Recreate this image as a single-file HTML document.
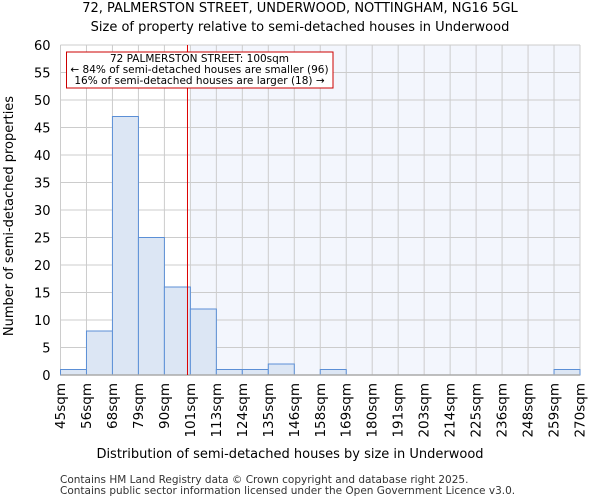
<!DOCTYPE html>
<html><head><meta charset="utf-8"><style>
body{margin:0;background:#fff;font-family:"DejaVu Sans","Liberation Sans",sans-serif;}
svg text{font-family:"DejaVu Sans","Liberation Sans",sans-serif;}
</style></head><body>
<svg id="c" width="600" height="500" xmlns="http://www.w3.org/2000/svg">
<text x="300" y="12" text-anchor="middle" font-size="13">72, PALMERSTON STREET, UNDERWOOD, NOTTINGHAM, NG16 5GL</text>
<text x="300" y="31" text-anchor="middle" font-size="13">Size of property relative to semi-detached houses in Underwood</text>
<g id="plot"></g>
<text x="290" y="458" text-anchor="middle" font-size="13">Distribution of semi-detached houses by size in Underwood</text>
<text transform="translate(13,216) rotate(-90)" text-anchor="middle" font-size="13">Number of semi-detached properties</text>
<text x="60" y="483" font-size="10.5" fill="#333">Contains HM Land Registry data © Crown copyright and database right 2025.</text>
<text x="60" y="494" font-size="10.5" fill="#333">Contains public sector information licensed under the Open Government Licence v3.0.</text>
</svg>
<script>
const binLabels=["45sqm","56sqm","68sqm","79sqm","90sqm","101sqm","113sqm","124sqm","135sqm","146sqm","158sqm","169sqm","180sqm","191sqm","203sqm","214sqm","225sqm","236sqm","248sqm","259sqm","270sqm"];
const counts=[1,8,47,25,16,12,1,1,2,0,1,0,0,0,0,0,0,0,0,1];
const yTicks=[0,5,10,15,20,25,30,35,40,45,50,55,60];
const propertySize=100;
const xMin=45, xMax=270;
const ns="http://www.w3.org/2000/svg";
const L=60.5,R=580,T=45,B=375;
const g=document.getElementById('plot');
const xs=v=>L+(v-xMin)/(xMax-xMin)*(R-L);
const ys=v=>B-v/60*(B-T);
const bw=(R-L)/counts.length;
function mk(t,a){const e=document.createElementNS(ns,t);for(const k in a)e.setAttribute(k,a[k]);g.appendChild(e);return e;}
let e;
e=mk('rect',{x:L+5*bw,y:T,width:R-(L+5*bw),height:B-T,fill:'#f3f6fd'});


yTicks.forEach(v=>{
 e=mk('line',{x1:L,x2:R,y1:ys(v),y2:ys(v),stroke:'#ccc','stroke-width':1});
 
 
 e=mk('text',{x:L-10,y:ys(v)+5,'text-anchor':'end','font-size':13});
 e.textContent=v;
 
 
});
binLabels.forEach((lab,i)=>{
 const x=L+i*bw;
 e=mk('line',{x1:x,x2:x,y1:T,y2:B,stroke:'#ccc','stroke-width':1});
 
 
 e=mk('text',{transform:`translate(${x+4.5},${B+8}) rotate(-90)`,'text-anchor':'end','font-size':13.5});
 e.textContent=lab;
 
 
});
counts.forEach((c,i)=>{
 if(c<=0)return;
 e=mk('rect',{x:L+i*bw,y:ys(c),width:bw,height:B-ys(c),fill:'#dce6f4',stroke:'#5b8fd6','stroke-width':1});
 
 
});
e=mk('line',{x1:L,x2:R,y1:B,y2:B,stroke:'#aaa','stroke-width':1.5});


e=mk('line',{x1:xs(propertySize),x2:xs(propertySize),y1:T,y2:B,stroke:'#dd0000','stroke-width':1});


e=mk('rect',{x:66.5,y:52,width:266.5,height:36,fill:'#fff',stroke:'#cc0000','stroke-width':1});


["72 PALMERSTON STREET: 100sqm","← 84% of semi-detached houses are smaller (96)","16% of semi-detached houses are larger (18) →"].forEach((t,i)=>{
 e=mk('text',{x:199.5,y:62+i*11,'text-anchor':'middle','font-size':10.5});
 e.textContent=t;
 
 
});
</script>
</body></html>
